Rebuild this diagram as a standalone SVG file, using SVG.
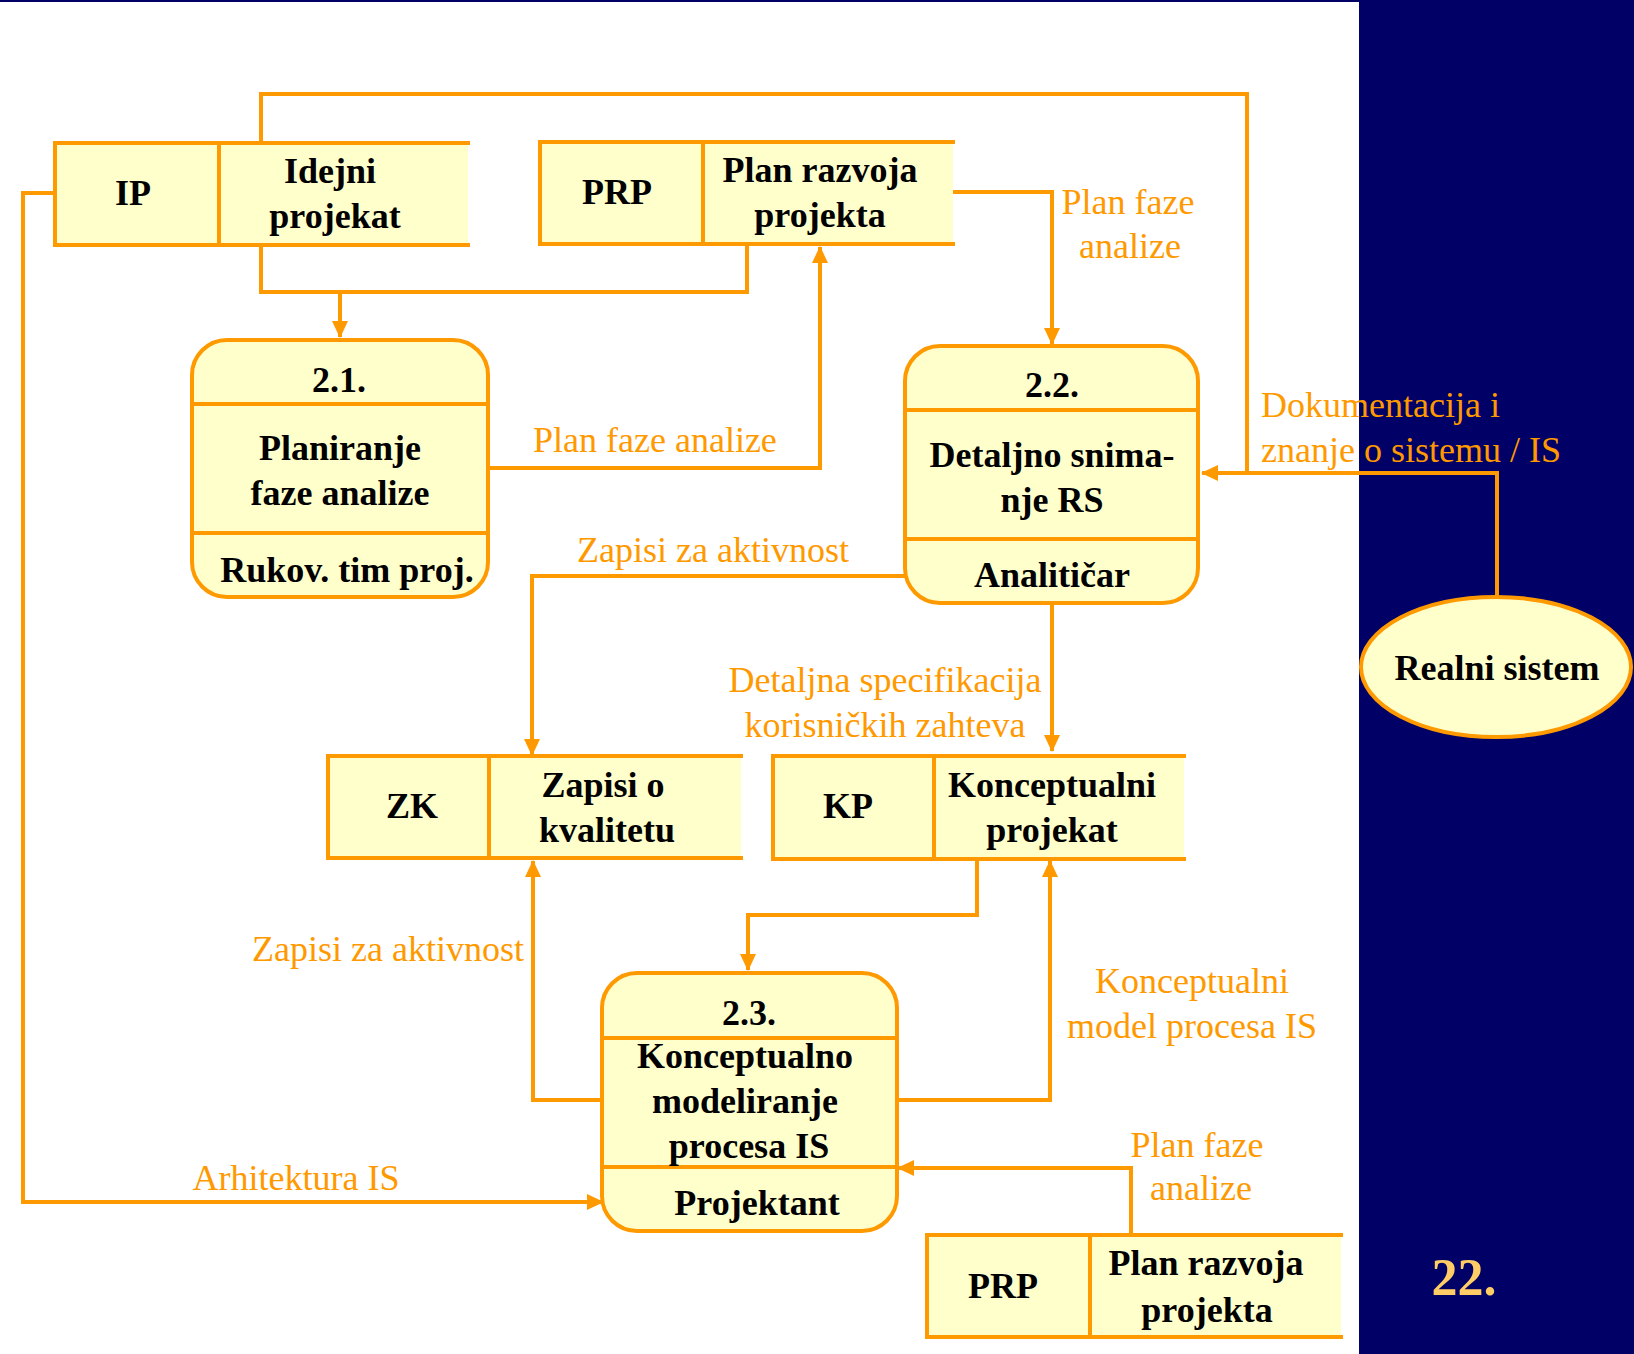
<svg xmlns="http://www.w3.org/2000/svg" width="1634" height="1354" viewBox="0 0 1634 1354">
<style>
.box{fill:#FFFFCC;stroke:none}
.ln{fill:none;stroke:#FF9900;stroke-width:4}
.c{fill:none;stroke:#FF9900;stroke-width:4}
.t{font-family:"Liberation Serif","Times New Roman",serif;font-weight:bold;font-size:36px;fill:#000;text-anchor:middle}
.l{font-family:"Liberation Serif","Times New Roman",serif;font-size:36px;fill:#FF9900}
.m{text-anchor:middle}
.e{text-anchor:end}
</style>
<defs>
<marker id="ah" markerUnits="userSpaceOnUse" markerWidth="18" markerHeight="18" refX="16" refY="8" orient="auto">
<path d="M0,0 L17,8 L0,16 z" fill="#FF9900"/>
</marker>
</defs>
<rect x="0" y="0" width="1634" height="1354" fill="#FFFFFF"/>
<rect x="1359" y="0" width="275" height="1354" fill="#000066"/>
<rect x="0" y="0" width="1634" height="2" fill="#000066"/>

<g id="connectors">
<path class="c" d="M261,143 V94 H1247 V473"/>
<path class="c" d="M1497,596 V473 H1202" marker-end="url(#ah)"/>
<path class="c" d="M261,245 V292 H747 V244"/>
<path class="c" d="M340,292 V337" marker-end="url(#ah)"/>
<path class="c" d="M953,192 H1052 V344" marker-end="url(#ah)"/>
<path class="c" d="M488,468 H820 V247" marker-end="url(#ah)"/>
<path class="c" d="M905,576 H532 V755" marker-end="url(#ah)"/>
<path class="c" d="M1052,603 V751" marker-end="url(#ah)"/>
<path class="c" d="M977,859 V915 H748 V970" marker-end="url(#ah)"/>
<path class="c" d="M602,1100 H533 V861" marker-end="url(#ah)"/>
<path class="c" d="M897,1100 H1050 V861" marker-end="url(#ah)"/>
<path class="c" d="M53,193 H23 V1202 H603" marker-end="url(#ah)"/>
<path class="c" d="M1131,1235 V1168 H898" marker-end="url(#ah)"/>
<text class="l m" x="1128" y="214">Plan faze</text>
<text class="l m" x="1130" y="258">analize</text>
<text class="l" x="533" y="452">Plan faze analize</text>
<text class="l" x="577" y="562">Zapisi za aktivnost</text>
<text class="l" x="1261" y="417">Dokumentacija i</text>
<text class="l" x="1261" y="462">znanje o sistemu / IS</text>
<text class="l m" x="885" y="692">Detaljna specifikacija</text>
<text class="l m" x="885" y="737">korisničkih zahteva</text>
<text class="l e" x="524" y="961">Zapisi za aktivnost</text>
<text class="l m" x="1192" y="993">Konceptualni</text>
<text class="l m" x="1192" y="1038">model procesa IS</text>
<text class="l m" x="296" y="1190">Arhitektura IS</text>
<text class="l m" x="1197" y="1157">Plan faze</text>
<text class="l m" x="1201" y="1200">analize</text>
</g>

<g id="IP">
<rect class="box" x="53" y="143" width="415" height="102"/>
<path class="ln" d="M470,143 H55 V245 H470 M219,143 V245"/>
<text class="t" x="133" y="205">IP</text>
<text class="t" x="330" y="183">Idejni</text>
<text class="t" x="335" y="228">projekat</text>
</g>

<g id="PRP1">
<rect class="box" x="538" y="142" width="415" height="102"/>
<path class="ln" d="M955,142 H540 V244 H955 M703,142 V244"/>
<text class="t" x="617" y="204">PRP</text>
<text class="t" x="820" y="182">Plan razvoja</text>
<text class="t" x="820" y="227">projekta</text>
</g>

<g id="P21">
<rect x="192" y="340" width="296" height="257" rx="35" fill="#FFFFCC" stroke="#FF9900" stroke-width="4"/>
<path class="ln" d="M192,404 H488 M192,533 H488"/>
<text class="t" x="339" y="392">2.1.</text>
<text class="t" x="340" y="460">Planiranje</text>
<text class="t" x="340" y="505">faze analize</text>
<text class="t" x="347" y="582">Rukov. tim proj.</text>
</g>

<g id="P22">
<rect x="905" y="346" width="293" height="257" rx="35" fill="#FFFFCC" stroke="#FF9900" stroke-width="4"/>
<path class="ln" d="M905,410 H1198 M905,539 H1198"/>
<text class="t" x="1052" y="397">2.2.</text>
<text class="t" x="1052" y="467">Detaljno snima-</text>
<text class="t" x="1052" y="512">nje RS</text>
<text class="t" x="1052" y="587">Analitičar</text>
</g>

<g id="RS">
<ellipse cx="1496" cy="667" rx="135" ry="70" fill="#FFFFCC" stroke="#FF9900" stroke-width="4"/>
<text class="t" x="1497" y="680">Realni sistem</text>
</g>

<g id="ZK">
<rect class="box" x="326" y="756" width="415" height="102"/>
<path class="ln" d="M743,756 H328 V858 H743 M489,756 V858"/>
<text class="t" x="412" y="818">ZK</text>
<text class="t" x="603" y="797">Zapisi o</text>
<text class="t" x="607" y="842">kvalitetu</text>
</g>

<g id="KP">
<rect class="box" x="771" y="756" width="413" height="103"/>
<path class="ln" d="M1186,756 H773 V859 H1186 M934,756 V859"/>
<text class="t" x="848" y="818">KP</text>
<text class="t" x="1052" y="797">Konceptualni</text>
<text class="t" x="1052" y="842">projekat</text>
</g>

<g id="P23">
<rect x="602" y="973" width="295" height="258" rx="35" fill="#FFFFCC" stroke="#FF9900" stroke-width="4"/>
<path class="ln" d="M602,1038 H897 M602,1167 H897"/>
<text class="t" x="749" y="1025">2.3.</text>
<text class="t" x="745" y="1068">Konceptualno</text>
<text class="t" x="745" y="1113">modeliranje</text>
<text class="t" x="749" y="1158">procesa IS</text>
<text class="t" x="757" y="1215">Projektant</text>
</g>

<g id="PRP2">
<rect class="box" x="925" y="1235" width="416" height="102"/>
<path class="ln" d="M1343,1235 H927 V1337 H1343 M1090,1235 V1337"/>
<text class="t" x="1003" y="1298">PRP</text>
<text class="t" x="1206" y="1275">Plan razvoja</text>
<text class="t" x="1207" y="1322">projekta</text>
</g>

<text x="1464" y="1295" font-family="Liberation Serif, serif" font-weight="bold" font-size="52" fill="#FFCC66" text-anchor="middle">22.</text>
</svg>
